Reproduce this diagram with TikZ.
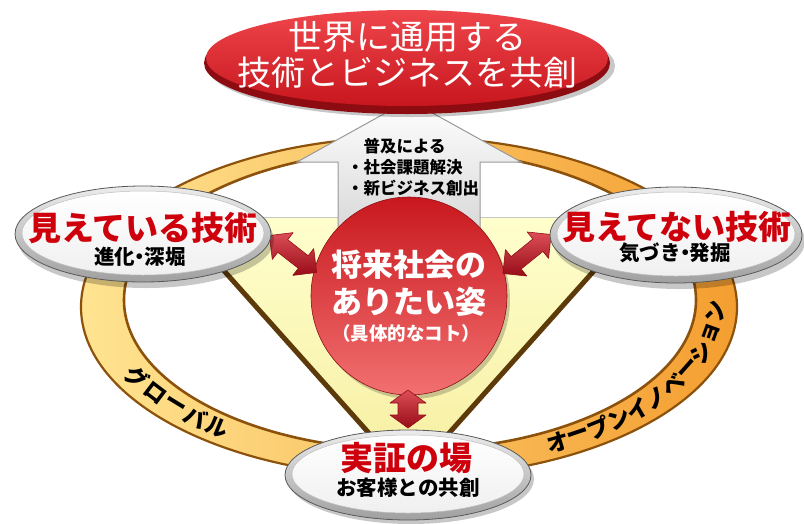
\documentclass[tikz,border=0pt]{standalone}
\usepackage{fontspec}
\newfontfamily\jp{Noto Sans CJK JP}
\usetikzlibrary{shapes.geometric,decorations.markings}
\definecolor{titlered}{RGB}{205,0,12}
\definecolor{topredA}{RGB}{238,70,75}
\definecolor{topredB}{RGB}{200,22,30}
\definecolor{topredRim}{RGB}{140,12,18}
\definecolor{ringL}{RGB}{255,228,145}
\definecolor{ringR}{RGB}{244,158,48}
\definecolor{ringEdge}{RGB}{140,82,12}
\definecolor{triFill}{RGB}{255,255,205}
\definecolor{triFillB}{RGB}{246,238,160}
\definecolor{triEdge}{RGB}{92,58,10}
\definecolor{circA}{RGB}{200,24,30}
\definecolor{circB}{RGB}{242,112,112}
\definecolor{arrRed}{RGB}{212,34,46}
\definecolor{arrRedD}{RGB}{150,12,22}
\newcommand\dblarr[6]{%
  \begin{scope}[shift={#1}, rotate=#2]
    \path[dblarrow] (-#3/2,0) -- (-#3/2+#6,#4/2) -- (-#3/2+#6,#5/2) -- (#3/2-#6,#5/2)
      -- (#3/2-#6,#4/2) -- (#3/2,0) -- (#3/2-#6,-#4/2) -- (#3/2-#6,-#5/2)
      -- (-#3/2+#6,-#5/2) -- (-#3/2+#6,-#4/2) -- cycle;
  \end{scope}}
\newcommand\ndot{\kern-0.28em・\kern-0.28em}
\begin{document}
\begin{tikzpicture}[x=1pt,y=-1pt,
  silverout/.style={ellipse, inner sep=0, top color=white!85!gray, bottom color=gray!75, draw=gray!70!black, line width=0.8},
  silverin/.style={ellipse, inner sep=0, top color=white, bottom color=white!88!gray, draw=gray!50, line width=0.5},
  shadowell/.style={ellipse, inner sep=0, fill=black, opacity=0.22},
  redtitle/.style={font=\jp\bfseries\fontsize{33}{36}\selectfont, text=titlered, inner sep=0},
  subtitle/.style={font=\jp\bfseries\fontsize{20.5}{22}\selectfont, text=black, inner sep=0},
  whitetitle/.style={font=\jp\fontsize{34}{36}\selectfont, text=white, inner sep=0},
  circtext/.style={font=\jp\bfseries\fontsize{31}{34}\selectfont, text=white, inner sep=0},
  ringtxt/.style={font=\jp\bfseries\fontsize{22.5}{22.5}\selectfont, text=black, transform shape, inner sep=0, anchor=center},
  dblarrow/.style={top color=arrRed!80!white, bottom color=arrRedD, draw=arrRedD, line width=0.6, line join=round},
  uparrow/.style={top color=white, bottom color=gray!35, draw=gray!80, line width=1}]
\useasboundingbox (0,0) rectangle (804,523);

% ---- orange ring ----
\path[even odd rule, left color=ringL, right color=ringR]
  (409,307) ellipse [x radius=328, y radius=170]
  (410,300) ellipse [x radius=286, y radius=150];
\draw[ringEdge, line width=2.2] (409,307) ellipse [x radius=328, y radius=170];
\draw[ringEdge, line width=2.6] (410,300) ellipse [x radius=286, y radius=150];

% ring texts
\path[decorate, decoration={markings,
  mark=at position 12.3pt with {\node[ringtxt] (g1) {グ};},
  mark=at position 36pt with {\node[ringtxt] (g2) {ロ};},
  mark=at position 59.7pt with {\node[ringtxt] (g3) {ー};},
  mark=at position 83.4pt with {\node[ringtxt] (g4) {バ};},
  mark=at position 107.1pt with {\node[ringtxt] (g5) {ル};}}]
  ([shift={(156:307 and 158)}]409,304) arc [start angle=156, end angle=118, x radius=307, y radius=158];
\path[decorate, decoration={markings,
  mark=at position 15pt with {\node[ringtxt] (o1) {オ};},
  mark=at position 36.6pt with {\node[ringtxt] (o2) {ー};},
  mark=at position 58.2pt with {\node[ringtxt] (o3) {プ};},
  mark=at position 79.8pt with {\node[ringtxt] (o4) {ン};},
  mark=at position 101.4pt with {\node[ringtxt] (o5) {イ};},
  mark=at position 123pt with {\node[ringtxt] (o6) {ノ};},
  mark=at position 144.6pt with {\node[ringtxt] (o7) {ベ};},
  mark=at position 166.2pt with {\node[ringtxt] (o8) {ー};},
  mark=at position 187.8pt with {\node[ringtxt] (o9) {シ};},
  mark=at position 209.4pt with {\node[ringtxt] (o10) {ョ};},
  mark=at position 231pt with {\node[ringtxt] (o11) {ン};}}]
  ([shift={(64:307 and 158)}]409,304) arc [start angle=64, end angle=-6, x radius=307, y radius=158];

% ---- inverted triangle ----
\path[top color=triFill, bottom color=triFillB] (176,217) -- (642,217) -- (409,478) -- cycle;
\draw[triEdge, line width=5, line cap=round] (176,217) -- (409,478) -- (642,217);
\draw[gray!45, line width=0.8] (176,217) -- (642,217);

% ---- up arrow ----
\path[uparrow] (338,250) -- (338,162) -- (297,162) -- (409,100) -- (521,162) -- (480,162) -- (480,250) -- cycle;

% ---- top red ellipse ----
\node[shadowell, minimum width=408, minimum height=102] (topsh) at (411,66) {};
\node[ellipse, inner sep=0, fill=topredRim, minimum width=406, minimum height=102] (toprim) at (407,63) {};
\node[ellipse, inner sep=0, top color=topredA, bottom color=topredB, minimum width=402, minimum height=96] (top) at (407,58) {};
\node[whitetitle] (top1) at (407,37) {世界に通用する};
\node[whitetitle] (top2) at (407,73) {技術とビジネスを共創};

% ---- arrow text ----
\node[font=\jp\bfseries\fontsize{16.5}{21}\selectfont, align=left, inner sep=0, anchor=west] (uptext) at (347,167)
  {\hspace*{1em}普及による\\・社会課題解決\\・新ビジネス創出};

% ---- centre circle ----
\node[ellipse, inner sep=0, fill=black, opacity=0.2, minimum width=196, minimum height=198] (circsh) at (412,300) {};
\node[ellipse, inner sep=0, top color=circA, bottom color=circB, draw=circA!70!black, line width=0.6, minimum width=196, minimum height=198] (circ) at (409,296) {};
\node[circtext] (c1) at (409,265) {将来社会の};
\node[circtext] (c2) at (409,302) {ありたい姿};
\node[font=\jp\bfseries\fontsize{18.5}{20}\selectfont, text=white, inner sep=0] (c3) at (406,333) {（具体的なコト）};

% ---- double arrows ----
\dblarr{(293,254)}{-38}{60}{34}{16}{17}
\dblarr{(527,254)}{39}{62}{34}{16}{17}
\dblarr{(408,409)}{90}{38}{36}{20}{13}

% ---- left ellipse ----
\node[shadowell, minimum width=256, minimum height=96] (lsh) at (146,240) {};
\node[silverout, minimum width=256, minimum height=96] (left) at (143,234) {};
\node[silverin, minimum width=242, minimum height=84] (lefti) at (143,233) {};
\node[redtitle] (l1) at (143,228) {見えている技術};
\node[subtitle] (l2) at (140,257) {進化\ndot 深堀};

% ---- right ellipse ----
\node[shadowell, minimum width=252, minimum height=96] (rsh) at (679,241) {};
\node[silverout, minimum width=252, minimum height=96] (right) at (676,235) {};
\node[silverin, minimum width=238, minimum height=84] (righti) at (676,234) {};
\node[redtitle] (r1) at (677,227) {見えてない技術};
\node[subtitle] (r2) at (675,253) {気づき\ndot 発掘};

% ---- bottom ellipse ----
\node[shadowell, minimum width=246, minimum height=90] (bsh) at (411,479) {};
\node[silverout, minimum width=246, minimum height=90] (bottom) at (408,475) {};
\node[silverin, minimum width=232, minimum height=78] (bottomi) at (408,474) {};
\node[redtitle] (b1) at (406,458) {実証の場};
\node[subtitle] (b2) at (408,488) {お客様との共創};
\end{tikzpicture}
\end{document}
